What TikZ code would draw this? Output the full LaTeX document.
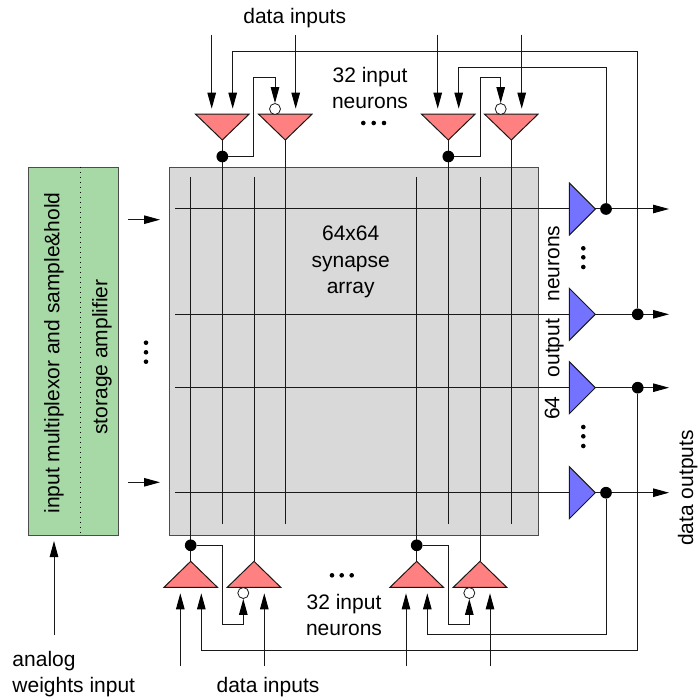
\documentclass[tikz,border=0pt]{standalone}
\usepackage{fontspec}
\setmainfont{Liberation Sans}
\usetikzlibrary{arrows.meta,calc}
\definecolor{pinkfill}{RGB}{255,128,128}
\definecolor{bluefill}{RGB}{115,115,255}
\definecolor{greenfill}{RGB}{166,217,166}
\definecolor{grayfill}{RGB}{217,217,217}
\tikzset{
  wire/.style={line width=1pt,draw=black!90},
  arr/.style={wire,-{Triangle[length=16pt,width=8.5pt,color=black]}},
  tri/.style={draw=black!90,line width=1pt,line join=miter},
  pink/.style={tri,fill=pinkfill},
  blue/.style={tri,fill=bluefill},
  jdot/.style={circle,fill=black,inner sep=0pt,minimum size=11.7pt},
  bub/.style={circle,draw=black!90,fill=white,line width=0.8pt,inner sep=0pt,minimum size=11pt},
  edot/.style={circle,fill=black,inner sep=0pt,minimum size=4.6pt},
  lbl/.style={font=\fontsize{21}{26}\selectfont,inner sep=0pt,anchor=base},
}
\begin{document}
\begin{tikzpicture}[x=1pt,y=-1pt]
\useasboundingbox (0,0) rectangle (698,700);
% blocks
\node[draw=black!70,fill=greenfill,line width=1pt,minimum width=90pt,minimum height=368pt,inner sep=0pt,anchor=north west] (green) at (27.5,166.8) {};
\node[draw=black!70,fill=grayfill,line width=1pt,minimum width=368.5pt,minimum height=368pt,inner sep=0pt,anchor=north west] (array) at (169.3,166.8) {};
\coordinate (dottop) at (80,166.8);
\coordinate (dotbot) at (80,534.8);
\draw[line width=1pt,dash pattern=on 1pt off 4pt] (dottop) -- (dotbot);
% named points
\foreach \n/\x in {t1/222.3,t2/285.3,t3/448.3,t4/511.3}{
  \coordinate (\n) at (\x,140);
  \coordinate (\n e) at (\x,524);
}
\foreach \n/\x in {b1/190.7,b2/254,b3/416.7,b4/480}{
  \coordinate (\n) at (\x,561.3);
  \coordinate (\n e) at (\x,177.3);
}
\foreach \n/\y in {r1/209,r2/314.3,r3/387.7,r4/492.7}{
  \coordinate (\n s) at (175,\y);
  \coordinate (\n) at (569.3,\y);
  \coordinate (\n a) at (595.3,\y);
  \coordinate (\n e) at (669,\y);
}
% array wires
\foreach \n in {t1,t2,t3,t4,b1,b2,b3,b4} \draw[wire] (\n) -- (\n e);
\foreach \n in {r1,r2,r3,r4} \draw[wire] (\n s) -- (\n);
% triangles
\foreach \n in {t1,t2,t3,t4}
  \draw[pink] ($(\n)+(-26.7,-25.8)$) -- ($(\n)+(26.7,-25.8)$) -- (\n) -- cycle;
\foreach \n in {b1,b2,b3,b4}
  \draw[pink] ($(\n)+(-26.7,26)$) -- ($(\n)+(26.7,26)$) -- (\n) -- cycle;
\foreach \n in {r1,r2,r3,r4}
  \draw[blue] ($(\n)+(0,-26)$) -- ($(\n)+(0,26)$) -- (\n a) -- cycle;
% outputs
\foreach \n in {r1,r2,r3,r4} \draw[arr] (\n a) -- (\n e);
% junctions
\node[jdot] (jt1) at (222.3,156.5) {};
\node[jdot] (jt3) at (448.3,156.5) {};
\node[jdot] (jb1) at (190.7,545.3) {};
\node[jdot] (jb3) at (416.7,545.3) {};
\node[jdot] (jr1) at (606,209) {};
\node[jdot] (jr2) at (637.7,314.3) {};
\node[jdot] (jr3) at (637.7,387.7) {};
\node[jdot] (jr4) at (606,492.7) {};
\node[bub] (bt2) at (275,109) {};
\node[bub] (bt4) at (500.7,109) {};
\node[bub] (bb2) at (243.3,593) {};
\node[bub] (bb4) at (469.3,593) {};
% feedback
\coordinate (c1) at (253.7,77.7);
\coordinate (c2) at (480,77.7);
\coordinate (c3) at (222.3,624.3);
\coordinate (c4) at (448.3,624.3);
\draw[arr] (jt1) -| (c1) -| (bt2.north);
\draw[arr] (jt3) -| (c2) -| (bt4.north);
\draw[arr] (jb1) -| (c3) -| (bb2.south);
\draw[arr] (jb3) -| (c4) -| (bb4.south);
\draw[arr] (jr2) -- (637.7,51.7) -- (232.7,51.7) -- (232.7,108.7);
\draw[arr] (jr1) -- (606,67.3) -- (458.7,67.3) -- (458.7,108.7);
\draw[arr] (jr3) -- (637.7,650.5) -- (201.3,650.5) -- (201.3,593.3);
\draw[arr] (jr4) -- (606,634.3) -- (427.3,634.3) -- (427.3,593.3);
% free inputs
\foreach \x/\n in {211.7/a,295.7/b,437.7/c,521.7/d}{
  \coordinate (i\n) at (\x,35);
  \coordinate (o\n) at (\x,108.7);
  \draw[arr] (i\n) -- (o\n);
}
\foreach \x/\n in {180.3/e,264.3/f,406/g,490/h}{
  \coordinate (i\n) at (\x,666);
  \coordinate (o\n) at (\x,593.3);
  \draw[arr] (i\n) -- (o\n);
}
\coordinate (g1) at (128,219.7); \coordinate (g2) at (160,219.7);
\coordinate (g3) at (128,482.3); \coordinate (g4) at (160,482.3);
\coordinate (g5) at (54,635); \coordinate (g6) at (54,541);
\draw[arr] (g1) -- (g2);
\draw[arr] (g3) -- (g4);
\draw[arr] (g5) -- (g6);
% ellipsis dots
\foreach \x/\y/\n in {146/342.7/a,146/352.3/b,146/361.7/c,583.3/248.3/d,583.3/257.3/e,583.3/267/f,583.3/427/g,583.3/436.3/h,583.3/446/i,363.3/123/j,373.7/123/k,384/123/l,332/575.3/m,341.7/575.3/n,351.7/575.3/o}
  \node[edot] (e\n) at (\x,\y) {};
% text
\node[lbl] (l1) at (294.7,24) {data inputs};
\node[lbl] (l2a) at (370,83) {32 input};
\node[lbl] (l2b) at (370,108.7) {neurons};
\node[lbl] (l3a) at (344,609) {32 input};
\node[lbl] (l3b) at (344,635) {neurons};
\node[lbl] (l4) at (268,692.7) {data inputs};
\node[lbl,anchor=base west] (l5a) at (12.3,666.7) {analog};
\node[lbl,anchor=base west] (l5b) at (12.3,692.7) {weights input};
\node[lbl,rotate=90] (l6) at (693,488) {data outputs};
\node[lbl] (l7a) at (350.7,240.7) {64x64};
\node[lbl] (l7b) at (350.7,267.7) {synapse};
\node[lbl] (l7c) at (350.7,293.3) {array};
\node[lbl,rotate=90] (l8) at (559.3,263.5) {neurons};
\node[lbl,rotate=90] (l9) at (559.3,348) {output};
\node[lbl,rotate=90] (l10) at (559.3,408) {64};
\node[lbl,rotate=90] (l11) at (59.3,353) {input multiplexor and sample\&hold};
\node[lbl,rotate=90] (l12) at (107.3,357) {storage amplifier};
\end{tikzpicture}
\end{document}
